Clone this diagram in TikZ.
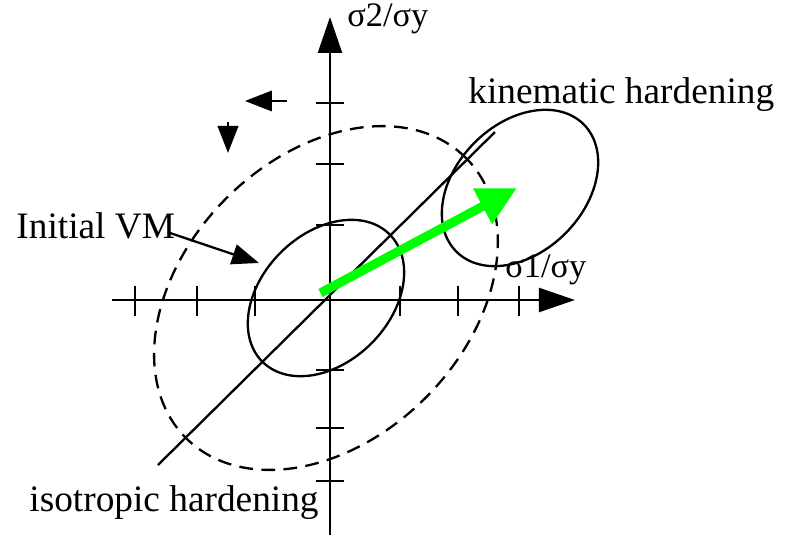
\documentclass[tikz,border=0pt]{standalone}
\usepackage{fontspec}
\setmainfont{Liberation Serif}
\usetikzlibrary{arrows.meta}
\definecolor{vecgreen}{RGB}{0,255,0}
\begin{document}
\begin{tikzpicture}[x=1cm,y=1cm,
  lbl/.style={anchor=base west,inner sep=0pt,font=\fontsize{17.7}{20}\selectfont},
  axlbl/.style={anchor=base west,inner sep=0pt,font=\fontsize{16.3}{18}\selectfont},
  axis/.style={line width=1.1pt,-{Triangle[length=0.6cm,width=0.4cm]}},
  tick/.style={line width=1.1pt},
  surf/.style={line width=1.1pt},
  smallarr/.style={line width=1.1pt,-{Triangle[length=0.45cm,width=0.34cm]}}]
\useasboundingbox (-5.5,-4) rectangle (7.617,5);
\coordinate (O) at (-0.067,0.033);
\coordinate (xl) at (-3.633,0);
\coordinate (xr) at (4.083,0);
\coordinate (yb) at (0,-3.917);
\coordinate (yt) at (0,4.717);
\coordinate (kc) at (3.167,1.867);
\coordinate (gs) at (-0.158,0.117);
\coordinate (ge) at (3.117,1.867);
\coordinate (dl) at (-2.867,-2.75);
\coordinate (du) at (2.75,2.8);
\coordinate (vmfrom) at (-2.667,1.117);
\coordinate (vmto) at (-1.183,0.617);
\coordinate (la) at (-0.717,3.317);
\coordinate (lb) at (-1.417,3.317);
\coordinate (da) at (-1.7,2.967);
\coordinate (db) at (-1.7,2.45);
\node[axlbl] (s2) at (0.283,4.55) {σ2/σy};
\node[axlbl] (s1) at (2.917,0.367) {σ1/σy};
\node[lbl] (kin) at (2.3,3.283) {kinematic hardening};
\node[lbl] (vm) at (-5.233,1.033) {Initial VM};
\node[lbl] (iso) at (-5.017,-3.533) {isotropic hardening};
\draw[axis] (xl)--(xr);
\draw[axis] (yb)--(yt);
\foreach \t in {-3.25,-2.217,-1.25,1.167,2.133,3.15}
  \draw[tick] (\t,0.24)--(\t,-0.27);
\foreach \t in {3.283,2.267,1.25,-1.167,-2.133,-3.017}
  \draw[tick] (-0.24,\t)--(0.24,\t);
\draw[surf] (O) circle [x radius=1.5, y radius=1.07, rotate=45];
\draw[surf,dash pattern=on 6.5pt off 4pt] (O) circle [x radius=3.3, y radius=2.35, rotate=45];
\draw[surf] (kc) circle [x radius=1.5, y radius=1.07, rotate=45];
\draw[surf] (dl)--(du);
\draw[vecgreen,line width=4.3pt,-{Triangle[length=0.65cm,width=0.63cm]}] (gs)--(ge);
\draw[smallarr] (vmfrom)--(vmto);
\draw[smallarr] (la)--(lb);
\draw[smallarr] (da)--(db);
\end{tikzpicture}
\end{document}
